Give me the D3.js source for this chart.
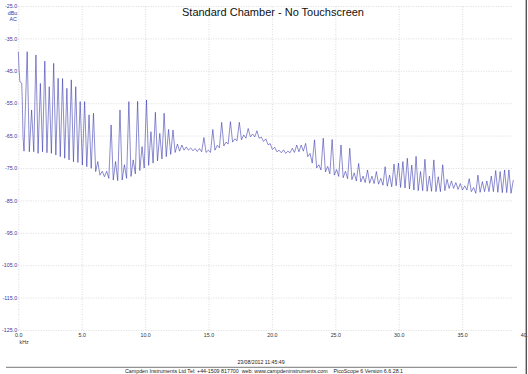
<!DOCTYPE html>
<html><head><meta charset="utf-8">
<script src="https://cdn.jsdelivr.net/npm/d3@7"></script>
<style>html,body{margin:0;padding:0;background:#fff;overflow:hidden}</style>
</head><body>
<svg id="c" width="528" height="374"></svg>
<script>
const title = "Standard Chamber - No Touchscreen";
const xTicks = [0, 5, 10, 15, 20, 25, 30, 35, 40];
const yTicks = [-25, -35, -45, -55, -65, -75, -85, -95, -105, -115, -125];
const yUnit = ["dBu", "AC"];
const xUnit = "kHz";
const footerDate = "23/08/2012 11:45:49";
const footerText = "Campden Instruments Ltd Tel: +44-1509 817700  web: www.campdeninstruments.com    PicoScope 6 Version 6.6.28.1";

// lead-in of the trace (DC peak and its shoulder)
const startKHz = [0, 0.06, 0.13, 0.27, 0.32, 0.37, 0.45];
const startDbu = [-39.1, -44.7, -48.4, -48.8, -55.0, -65.3, -69.8];

// harmonic peaks
const peakKHz = [0.70,1.05,1.39,1.74,2.09,2.44,2.79,3.14,3.49,3.83,4.18,4.53,4.88,5.23,5.58,5.93,6.27,6.62,6.97,7.32,
7.67,8.02,8.37,8.72,9.06,9.41,9.76,10.11,10.46,10.81,11.16,11.50,11.85,12.20,12.55,12.90,13.25,13.60,13.94,14.29,
14.64,14.99,15.34,15.69,16.04,16.38,16.73,17.08,17.43,17.78,18.13,18.48,18.82,19.17,19.52,19.87,20.22,20.57,20.92,21.26,
21.61,21.96,22.31,22.66,23.01,23.36,23.70,24.05,24.40,24.75,25.10,25.45,25.80,26.14,26.49,26.84,27.19,27.54,27.89,28.24,
28.59,28.93,29.28,29.63,29.98,30.33,30.68,31.03,31.37,31.72,32.07,32.42,32.77,33.12,33.47,33.81,34.16,34.51,34.86,35.21,
35.56,35.91,36.25,36.60,36.95,37.30,37.65,38.00,38.35,38.69,39.04];
const peakDbu = [-39.1,-57.1,-40.1,-48.9,-42.0,-49.9,-42.7,-47.3,-47.4,-50.4,-47.8,-49.9,-54.5,-54.5,-58.6,-58.1,-73.0,-76.0,-76.0,-61.7,
-73.0,-57.1,-74.0,-54.5,-72.5,-54.4,-68.4,-54.0,-63.8,-57.8,-64.3,-58.1,-63.1,-63.3,-67.6,-67.9,-68.5,-68.8,-69.0,-69.0,
-65.6,-69.5,-63.1,-68.0,-60.9,-67.0,-60.7,-66.0,-60.9,-64.8,-62.8,-64.5,-63.5,-65.5,-66.0,-67.5,-68.6,-69.5,-69.4,-69.8,
-68.9,-67.9,-67.9,-67.4,-70.5,-66.3,-74.0,-65.8,-74.5,-66.2,-75.5,-67.9,-76.0,-68.9,-76.5,-73.6,-77.5,-75.6,-77.5,-76.1,
-78.2,-74.6,-77.2,-73.8,-73.5,-73.0,-72.0,-74.1,-71.4,-76.1,-72.3,-77.5,-72.5,-77.7,-74.0,-78.5,-79.0,-79.5,-79.8,-80.5,
-78.3,-81.0,-77.2,-79.2,-79.0,-77.5,-75.8,-76.1,-75.6,-75.6,-78.7];

// valleys following each peak
const troughKHz = [0.87,1.22,1.56,1.91,2.26,2.61,2.96,3.31,3.66,4.00,4.35,4.70,5.05,5.40,5.75,6.10,6.44,6.79,7.14,7.49,
7.84,8.19,8.54,8.89,9.23,9.58,9.93,10.28,10.63,10.98,11.33,11.67,12.02,12.37,12.72,13.07,13.42,13.77,14.11,14.46,
14.81,15.16,15.51,15.86,16.21,16.55,16.90,17.25,17.60,17.95,18.30,18.65,18.99,19.34,19.69,20.04,20.39,20.74,21.09,21.43,
21.78,22.13,22.48,22.83,23.18,23.53,23.87,24.22,24.57,24.92,25.27,25.62,25.97,26.31,26.66,27.01,27.36,27.71,28.06,28.41,
28.76,29.10,29.45,29.80,30.15,30.50,30.85,31.20,31.54,31.89,32.24,32.59,32.94,33.29,33.64,33.98,34.33,34.68,35.03,35.38,
35.73,36.08,36.42,36.77,37.12,37.47,37.82,38.17,38.52,38.86];
const troughDbu = [-70.0,-70.0,-70.5,-70.0,-70.3,-70.5,-71.0,-71.5,-72.0,-72.5,-73.1,-73.3,-74.1,-74.6,-75.1,-76.1,-77.2,-77.7,-78.2,-78.7,
-78.9,-78.7,-78.2,-77.6,-76.8,-75.8,-75.0,-74.2,-73.5,-72.8,-72.2,-71.5,-70.8,-70.2,-69.8,-69.5,-69.5,-69.7,-69.9,-70.0,
-70.2,-70.2,-69.5,-68.8,-68.2,-67.6,-67.0,-66.6,-66.3,-65.8,-65.4,-65.4,-65.8,-66.8,-67.8,-69.3,-70.0,-70.3,-70.5,-70.3,
-70.2,-70.0,-69.8,-71.5,-73.5,-75.0,-75.6,-76.2,-76.8,-77.2,-77.6,-78.0,-78.3,-78.6,-79.0,-79.3,-79.5,-79.7,-79.8,-80.0,
-80.3,-80.6,-80.8,-80.5,-81.0,-81.2,-81.5,-81.8,-82.0,-82.0,-82.2,-82.2,-82.3,-82.3,-82.0,-81.3,-81.3,-81.6,-81.8,-81.8,
-82.3,-82.8,-82.5,-82.3,-82.3,-82.3,-82.5,-82.6,-82.6,-82.8];

const FONT = "'Liberation Sans', Arial, Helvetica, sans-serif";
const svg = d3.select("#c").style("font-family", FONT);
svg.append("rect").attr("width", 528).attr("height", 374).attr("fill", "#fff");

const x = d3.scaleLinear().domain([0, 40]).range([18.3, 525.5]);
const y = d3.scaleLinear().domain([-125, -25]).range([330, 6]);

// gridlines
const gxg = svg.append("g").attr("transform", "translate(0,330)")
  .call(d3.axisBottom(x).tickValues(xTicks).tickSize(-(330 - 6)).tickFormat(""));
gxg.select(".domain").remove();
gxg.selectAll("line").attr("stroke", "#cdcdcd").attr("stroke-width", 0.7).attr("stroke-dasharray", "1,1.5");
const gyg = svg.append("g").attr("transform", "translate(18.3,0)")
  .call(d3.axisLeft(y).tickValues(yTicks).tickSize(-(513 - 18.3)).tickFormat(""));
gyg.select(".domain").remove();
gyg.selectAll("line").attr("stroke", "#cdcdcd").attr("stroke-width", 0.7).attr("stroke-dasharray", "1,1.5");

// axis labels
const ya = svg.append("g").attr("transform", "translate(18.3,0)")
  .call(d3.axisLeft(y).tickValues(yTicks).tickSize(0).tickPadding(1.2).tickFormat(d => d.toFixed(1)));
ya.select(".domain").remove();
ya.selectAll("text").attr("font-size", 5.3).attr("font-family", FONT).attr("fill", "#3434a4");
const xa = svg.append("g").attr("transform", "translate(0,330)")
  .call(d3.axisBottom(x).tickValues(xTicks).tickSize(0).tickPadding(3.1).tickFormat(d => d.toFixed(1)));
xa.select(".domain").remove();
xa.selectAll("text").attr("font-size", 5.3).attr("font-family", FONT).attr("fill", "#333");

svg.append("text").attr("x", 17.3).attr("y", 15).attr("text-anchor", "end")
  .attr("font-size", 5.3).attr("fill", "#3434a4").text(yUnit[0]);
svg.append("text").attr("x", 16.8).attr("y", 20.7).attr("text-anchor", "end")
  .attr("font-size", 5.3).attr("fill", "#3434a4").text(yUnit[1]);
svg.append("text").attr("x", 19.5).attr("y", 343.5)
  .attr("font-size", 5.3).attr("fill", "#333").text(xUnit);

// trace
const pts = startKHz.map((f, i) => [f, startDbu[i]]);
peakKHz.forEach((f, i) => {
  pts.push([f, peakDbu[i]]);
  if (i < troughKHz.length) pts.push([troughKHz[i], troughDbu[i]]);
});
svg.append("path").datum(pts)
  .attr("fill", "none").attr("stroke", "#2e2eaa").attr("stroke-width", 0.55)
  .attr("stroke-linejoin", "round")
  .attr("d", d3.line().x(d => x(d[0])).y(d => y(d[1])));

// title
svg.append("text").attr("x", 273).attr("y", 15.5).attr("text-anchor", "middle")
  .attr("font-size", 11).attr("fill", "#111").text(title);

// footer
svg.append("text").attr("x", 261).attr("y", 364).attr("text-anchor", "middle")
  .attr("font-size", 5.2).attr("fill", "#222").text(footerDate);
svg.append("line").attr("x1", 6).attr("x2", 517).attr("y1", 367.3).attr("y2", 367.3)
  .attr("stroke", "#555").attr("stroke-width", 0.8);
svg.append("text").attr("x", 125).attr("y", 373.3)
  .attr("font-size", 5.3).attr("fill", "#222").style("white-space", "pre").text(footerText);

// right frame edge
svg.append("line").attr("x1", 526.3).attr("x2", 526.3).attr("y1", 0).attr("y2", 374)
  .attr("stroke", "#555").attr("stroke-width", 1.4);
</script>
</body></html>
